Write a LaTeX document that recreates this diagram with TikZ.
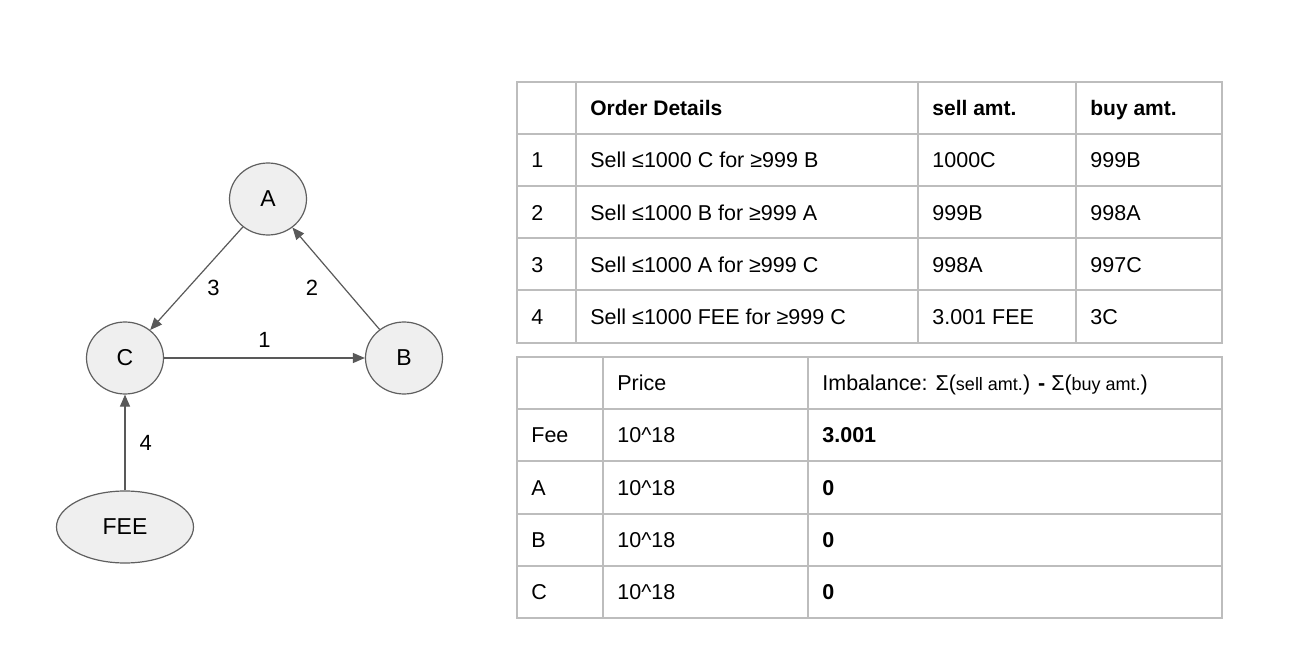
\documentclass[tikz,border=0pt]{standalone}
\usepackage{fontspec}
\setmainfont{Liberation Sans}
\usetikzlibrary{arrows.meta,shapes.geometric,positioning}
\definecolor{nodegray}{HTML}{5F5F5F}
\definecolor{nodefill}{HTML}{EFEFEF}
\definecolor{edgegray}{HTML}{595959}
\definecolor{tablegray}{HTML}{BDBDBD}
\tikzset{%
        token/.style = { ellipse, draw=nodegray, fill=nodefill, line width=0.6pt, minimum width=38.5pt, minimum height=36pt, inner sep=0pt, font=\fontsize{11.5}{13}\selectfont },
        order/.style = { draw=edgegray, line width=0.6pt, -{Triangle[length=6pt,width=5pt]} },
       elabel/.style = { font=\fontsize{11}{13}\selectfont, inner sep=0pt },
      tabline/.style = { draw=tablegray, line width=0.8pt, line cap=rect },
         cell/.style = { anchor=west, inner sep=0pt, text height=7.7pt, text depth=0pt, font=\fontsize{10.75}{13}\selectfont },
         head/.style = { cell, font=\bfseries\fontsize{10.5}{13}\selectfont },
        small/.style = { font=\fontsize{9}{11}\selectfont }
}
\begin{document}
\begin{tikzpicture}[x=0.5pt,y=-0.5pt]
\useasboundingbox (0,0) rectangle (1296,652);
% the ring of orders
\node[token] (A) at (268,199) {A};
\node[token] (C) at (125,358) {C};
\node[token] (B) at (404,358) {B};
\node[token, minimum width=68.5pt] (fee) at (125,527) {FEE};
\draw[order] (C) -- node[elabel, above=5pt] (l1) {1} (B);
\draw[order] (B) -- node[elabel, midway, shift={(-24,9)}] (l2) {2} (A);
\draw[order] (A) -- node[elabel, midway, shift={(17,9)}] (l3) {3} (C);
\draw[order] (fee) -- node[elabel, right=7pt] (l4) {4} (C);
% order table
\foreach \y in {82,134,186,238,290,343}
  \draw[tabline] (517,\y) -- (1222,\y);
\foreach \x in {517,576,918,1076,1222}
  \draw[tabline] (\x,82) -- (\x,343);
\node[head] (ohead) at (590,108) {Order Details};
\node[head] (osell) at (932,108) {sell amt.};
\node[head] (obuy) at (1090,108) {buy amt.};
\foreach \txt/\s/\b [count=\i] in {%
    {Sell ≤1000 C for ≥999 B}/1000C/999B,
    {Sell ≤1000 B for ≥999 A}/999B/998A,
    {Sell ≤1000 A for ≥999 C}/998A/997C,
    {Sell ≤1000 FEE for ≥999 C}/3.001 FEE/3C}
{
  \node[cell] (onum\i) at (531,{108+52.2*\i}) {\i};
  \node[cell] (otxt\i) at (590,{108+52.2*\i}) {\txt};
  \node[cell] (osell\i) at (932,{108+52.2*\i}) {\s};
  \node[cell] (obuy\i) at (1090,{108+52.2*\i}) {\b};
}
% price table
\foreach \y in {357,409,461,514,566,618}
  \draw[tabline] (517,\y) -- (1222,\y);
\foreach \x in {517,603,808,1222}
  \draw[tabline] (\x,357) -- (\x,618);
\node[cell] (phead) at (617,383) {Price};
\node[cell] (ihead) at (822,383) {Imbalance: Σ({\fontsize{9}{11}\selectfont sell amt.}) \textbf{-} Σ({\fontsize{9}{11}\selectfont buy amt.})};
\foreach \tok/\imb [count=\i] in {Fee/3.001, A/0, B/0, C/0}
{
  \node[cell] (ptok\i) at (531,{383+52.2*\i}) {\tok};
  \node[cell] (pval\i) at (617,{383+52.2*\i}) {10\textasciicircum18};
  \node[cell, font=\bfseries\fontsize{10.75}{13}\selectfont] (pimb\i) at (822,{383+52.2*\i}) {\imb};
}
\end{tikzpicture}
\end{document}
